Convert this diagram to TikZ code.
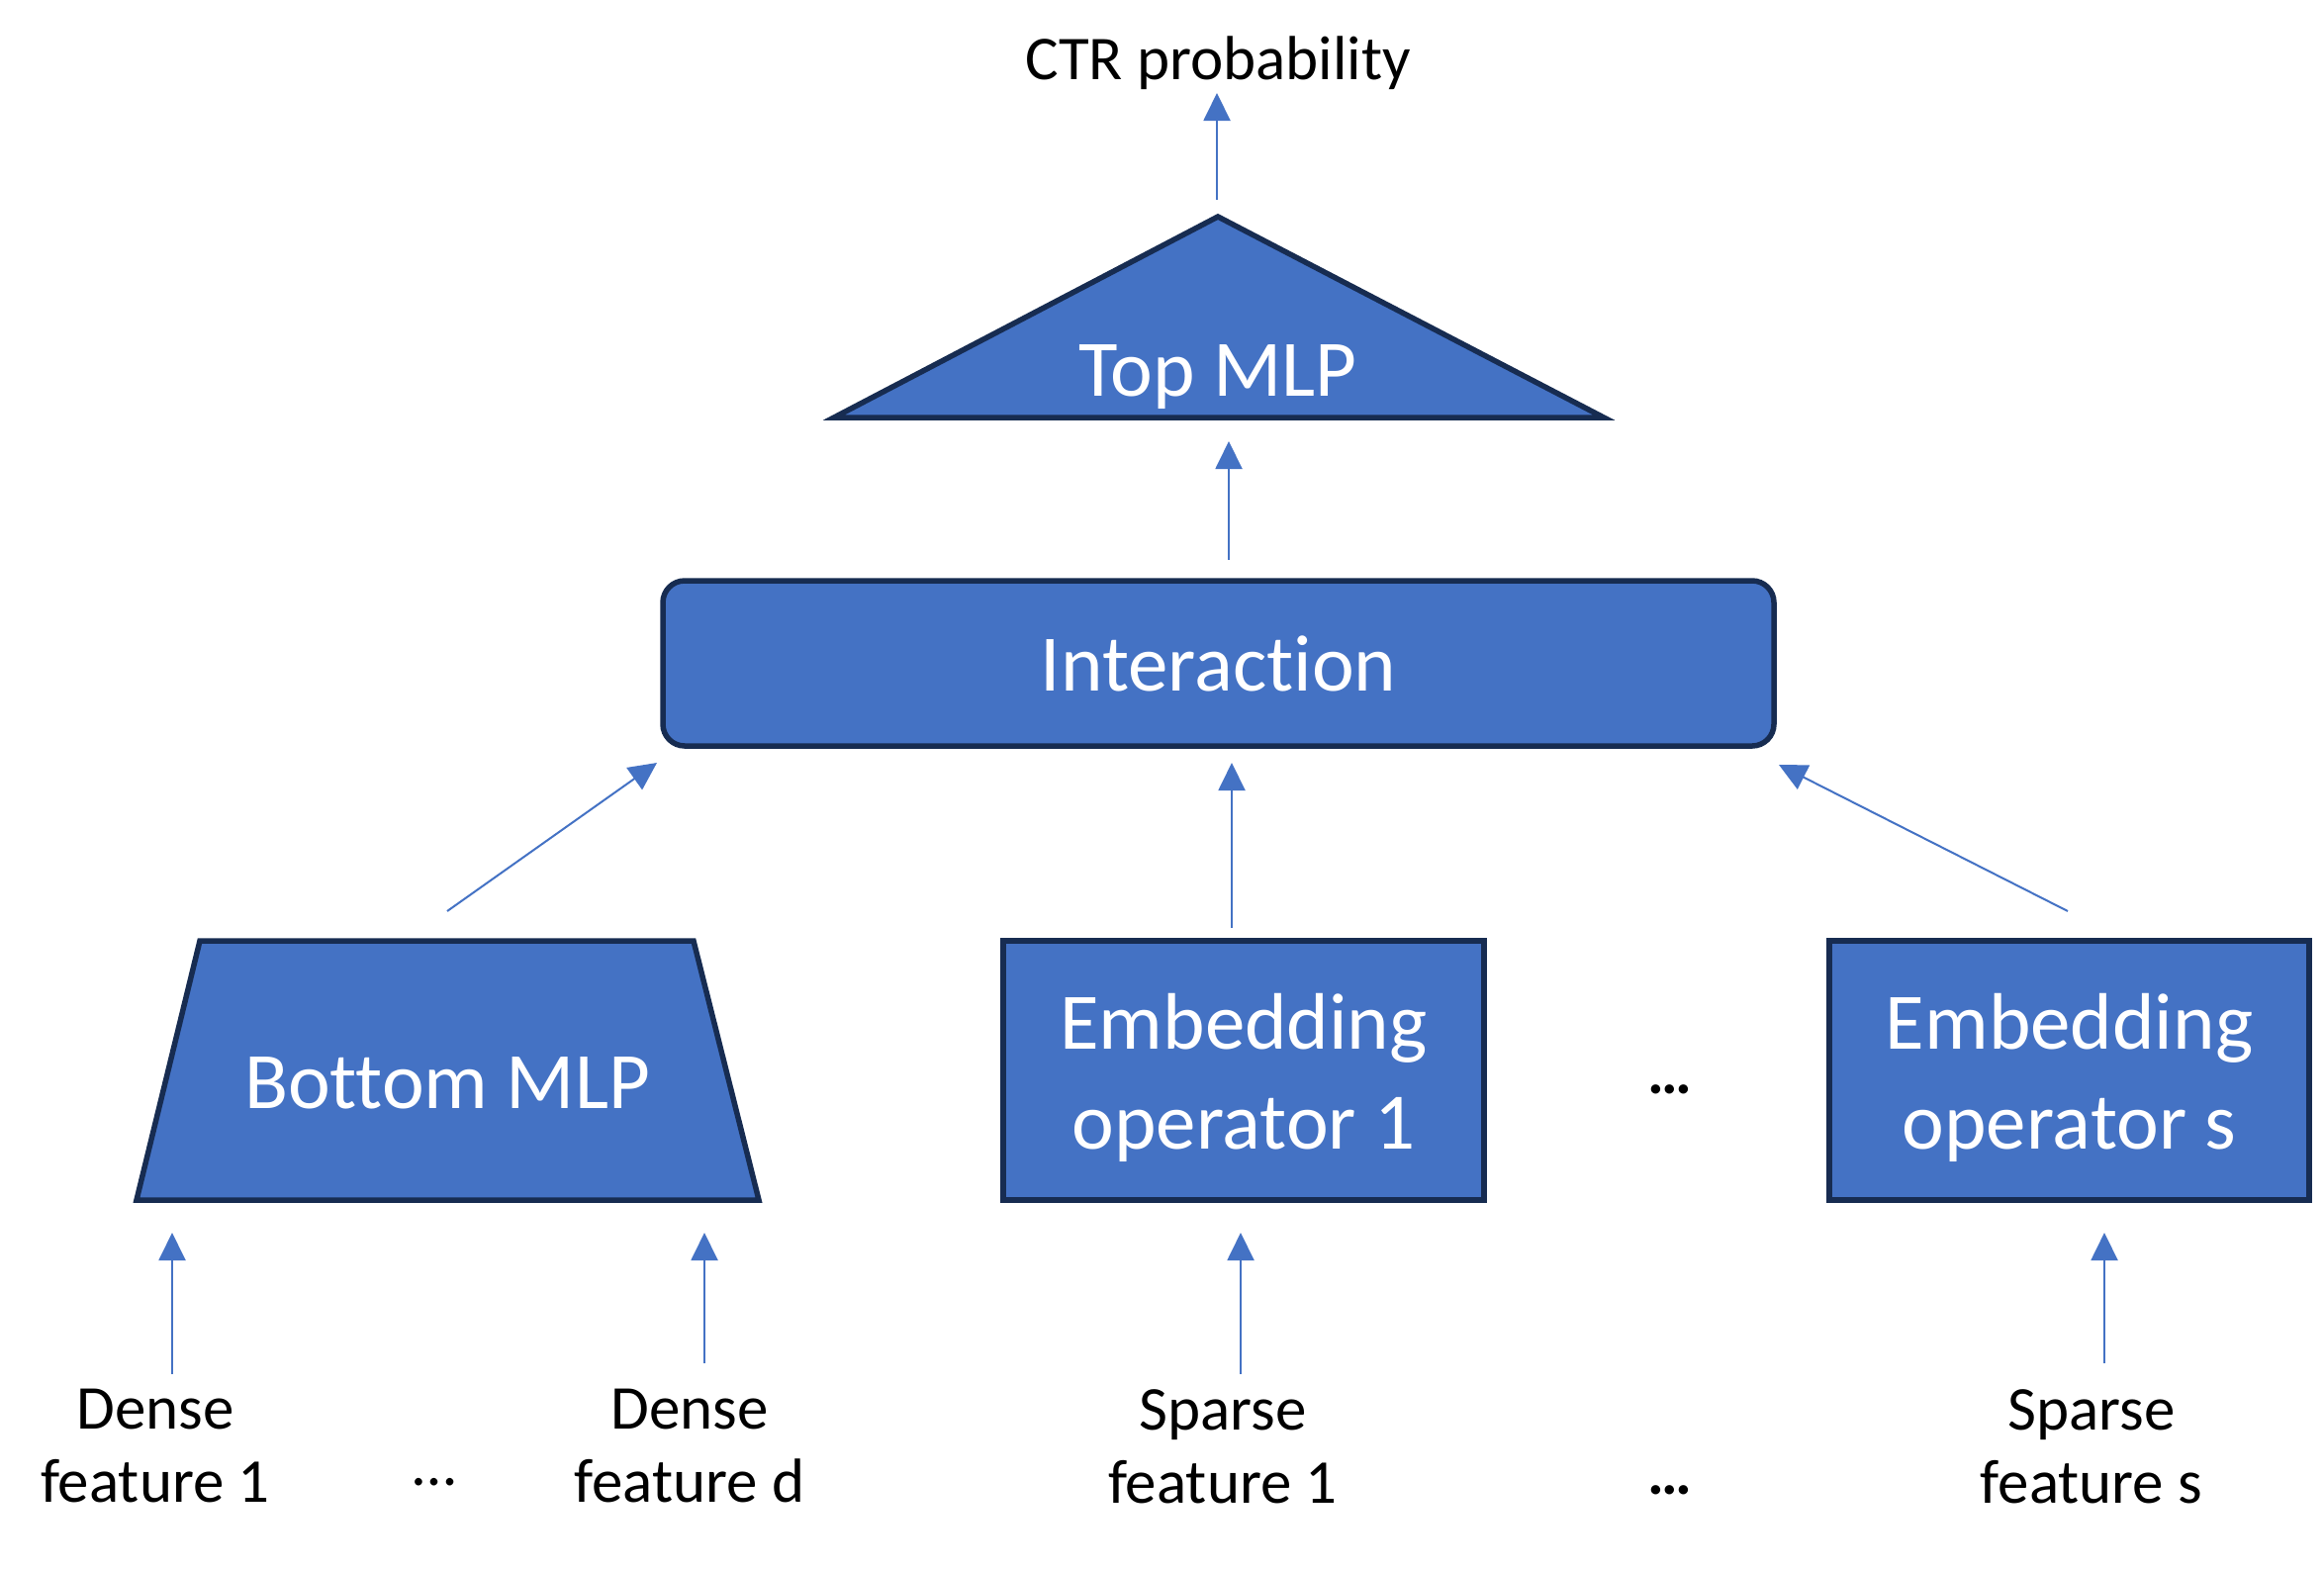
\documentclass[tikz,border=0pt]{standalone}
\usepackage{fontspec}
\setmainfont{Carlito}[Ligatures={NoCommon,NoContextual}]
\usetikzlibrary{arrows.meta}
\definecolor{boxfill}{HTML}{4472C4}
\definecolor{boxline}{HTML}{172C51}
\definecolor{arrowcol}{HTML}{4472C4}
\begin{document}
\begin{tikzpicture}[x=1pt,y=-1pt,
  bigfont/.style={font=\fontsize{81}{101}\selectfont},
  blk/.style={draw=boxline, line width=5.5pt, fill=boxfill, text=white, bigfont, align=center, inner sep=0pt},
  polyblk/.style={draw=boxline, line width=5.5pt, fill=boxfill, line join=miter},
  wtxt/.style={text=white, bigfont, inner sep=0pt},
  lbl/.style={font=\fontsize{63}{74}\selectfont, align=center, inner sep=0pt},
  arr/.style={draw=arrowcol, line width=2pt, -{Triangle[width=27pt,length=28pt]}}]
\useasboundingbox (0,0) rectangle (2349,1588);

% top
\node[lbl, anchor=base] (ctr) at (1231,80) {CTR probability};
\draw[polyblk] (843,422) coordinate (tl) -- (1231,219) coordinate (apex) -- (1621,422) coordinate (tr) -- cycle;
\node[wtxt, anchor=base] (topmlp) at (1231,400) {Top MLP};

% interaction
\node[blk, rounded corners=22pt, minimum width=1123pt, minimum height=167pt] (inter) at (1231.5,670.5) {Interaction};

% bottom MLP
\draw[polyblk] (202,951) -- (701,951) -- (767,1213) -- (138,1213) -- cycle;
\node[wtxt, anchor=base] (bmlp) at (452,1120) {Bottom MLP};

% embedding operators
\node[blk, minimum width=486pt, minimum height=262pt] (emb1) at (1257,1082) {\rule{0pt}{71pt}Embedding\\operator 1};
\node[blk, minimum width=485pt, minimum height=262pt] (embs) at (2091.5,1082) {\rule{0pt}{71pt}Embedding\\operator s};
\node[lbl] (dotsmid) at (1688,1101) {\bfseries …};

% features
\node[lbl, anchor=north] (d1) at (157,1404) {Dense\\feature 1};
\node[lbl, anchor=north] (dd) at (697,1404) {Dense\\feature d};
\node[lbl, anchor=north] (s1) at (1236,1404) {Sparse\\feature 1};
\node[lbl, anchor=north] (ss) at (2114,1404) {Sparse\\feature s};
\node[lbl] (dotsl) at (439,1498) {…};
\node[lbl] (dotsr) at (1688,1506) {\bfseries …};

% arrow end points
\coordinate (aTopS) at (1230,202);  \coordinate (aTopE) at (1230,94);
\coordinate (aIntS) at (1242,566);  \coordinate (aIntE) at (1242,446);
\coordinate (aBmS) at (452,921);    \coordinate (aBmE) at (664,771);
\coordinate (aE1S) at (1245,938);   \coordinate (aE1E) at (1245,771);
\coordinate (aEsS) at (2090,921);   \coordinate (aEsE) at (1798,773);
\coordinate (aD1S) at (174,1389);   \coordinate (aD1E) at (174,1246);
\coordinate (aDdS) at (712,1378);   \coordinate (aDdE) at (712,1246);
\coordinate (aS1S) at (1254,1389);  \coordinate (aS1E) at (1254,1246);
\coordinate (aSsS) at (2127,1378);  \coordinate (aSsE) at (2127,1246);

\draw[arr] (aTopS) -- (aTopE);
\draw[arr] (aIntS) -- (aIntE);
\draw[arr] (aBmS) -- (aBmE);
\draw[arr] (aE1S) -- (aE1E);
\draw[arr] (aEsS) -- (aEsE);
\draw[arr] (aD1S) -- (aD1E);
\draw[arr] (aDdS) -- (aDdE);
\draw[arr] (aS1S) -- (aS1E);
\draw[arr] (aSsS) -- (aSsE);
\end{tikzpicture}
\end{document}
